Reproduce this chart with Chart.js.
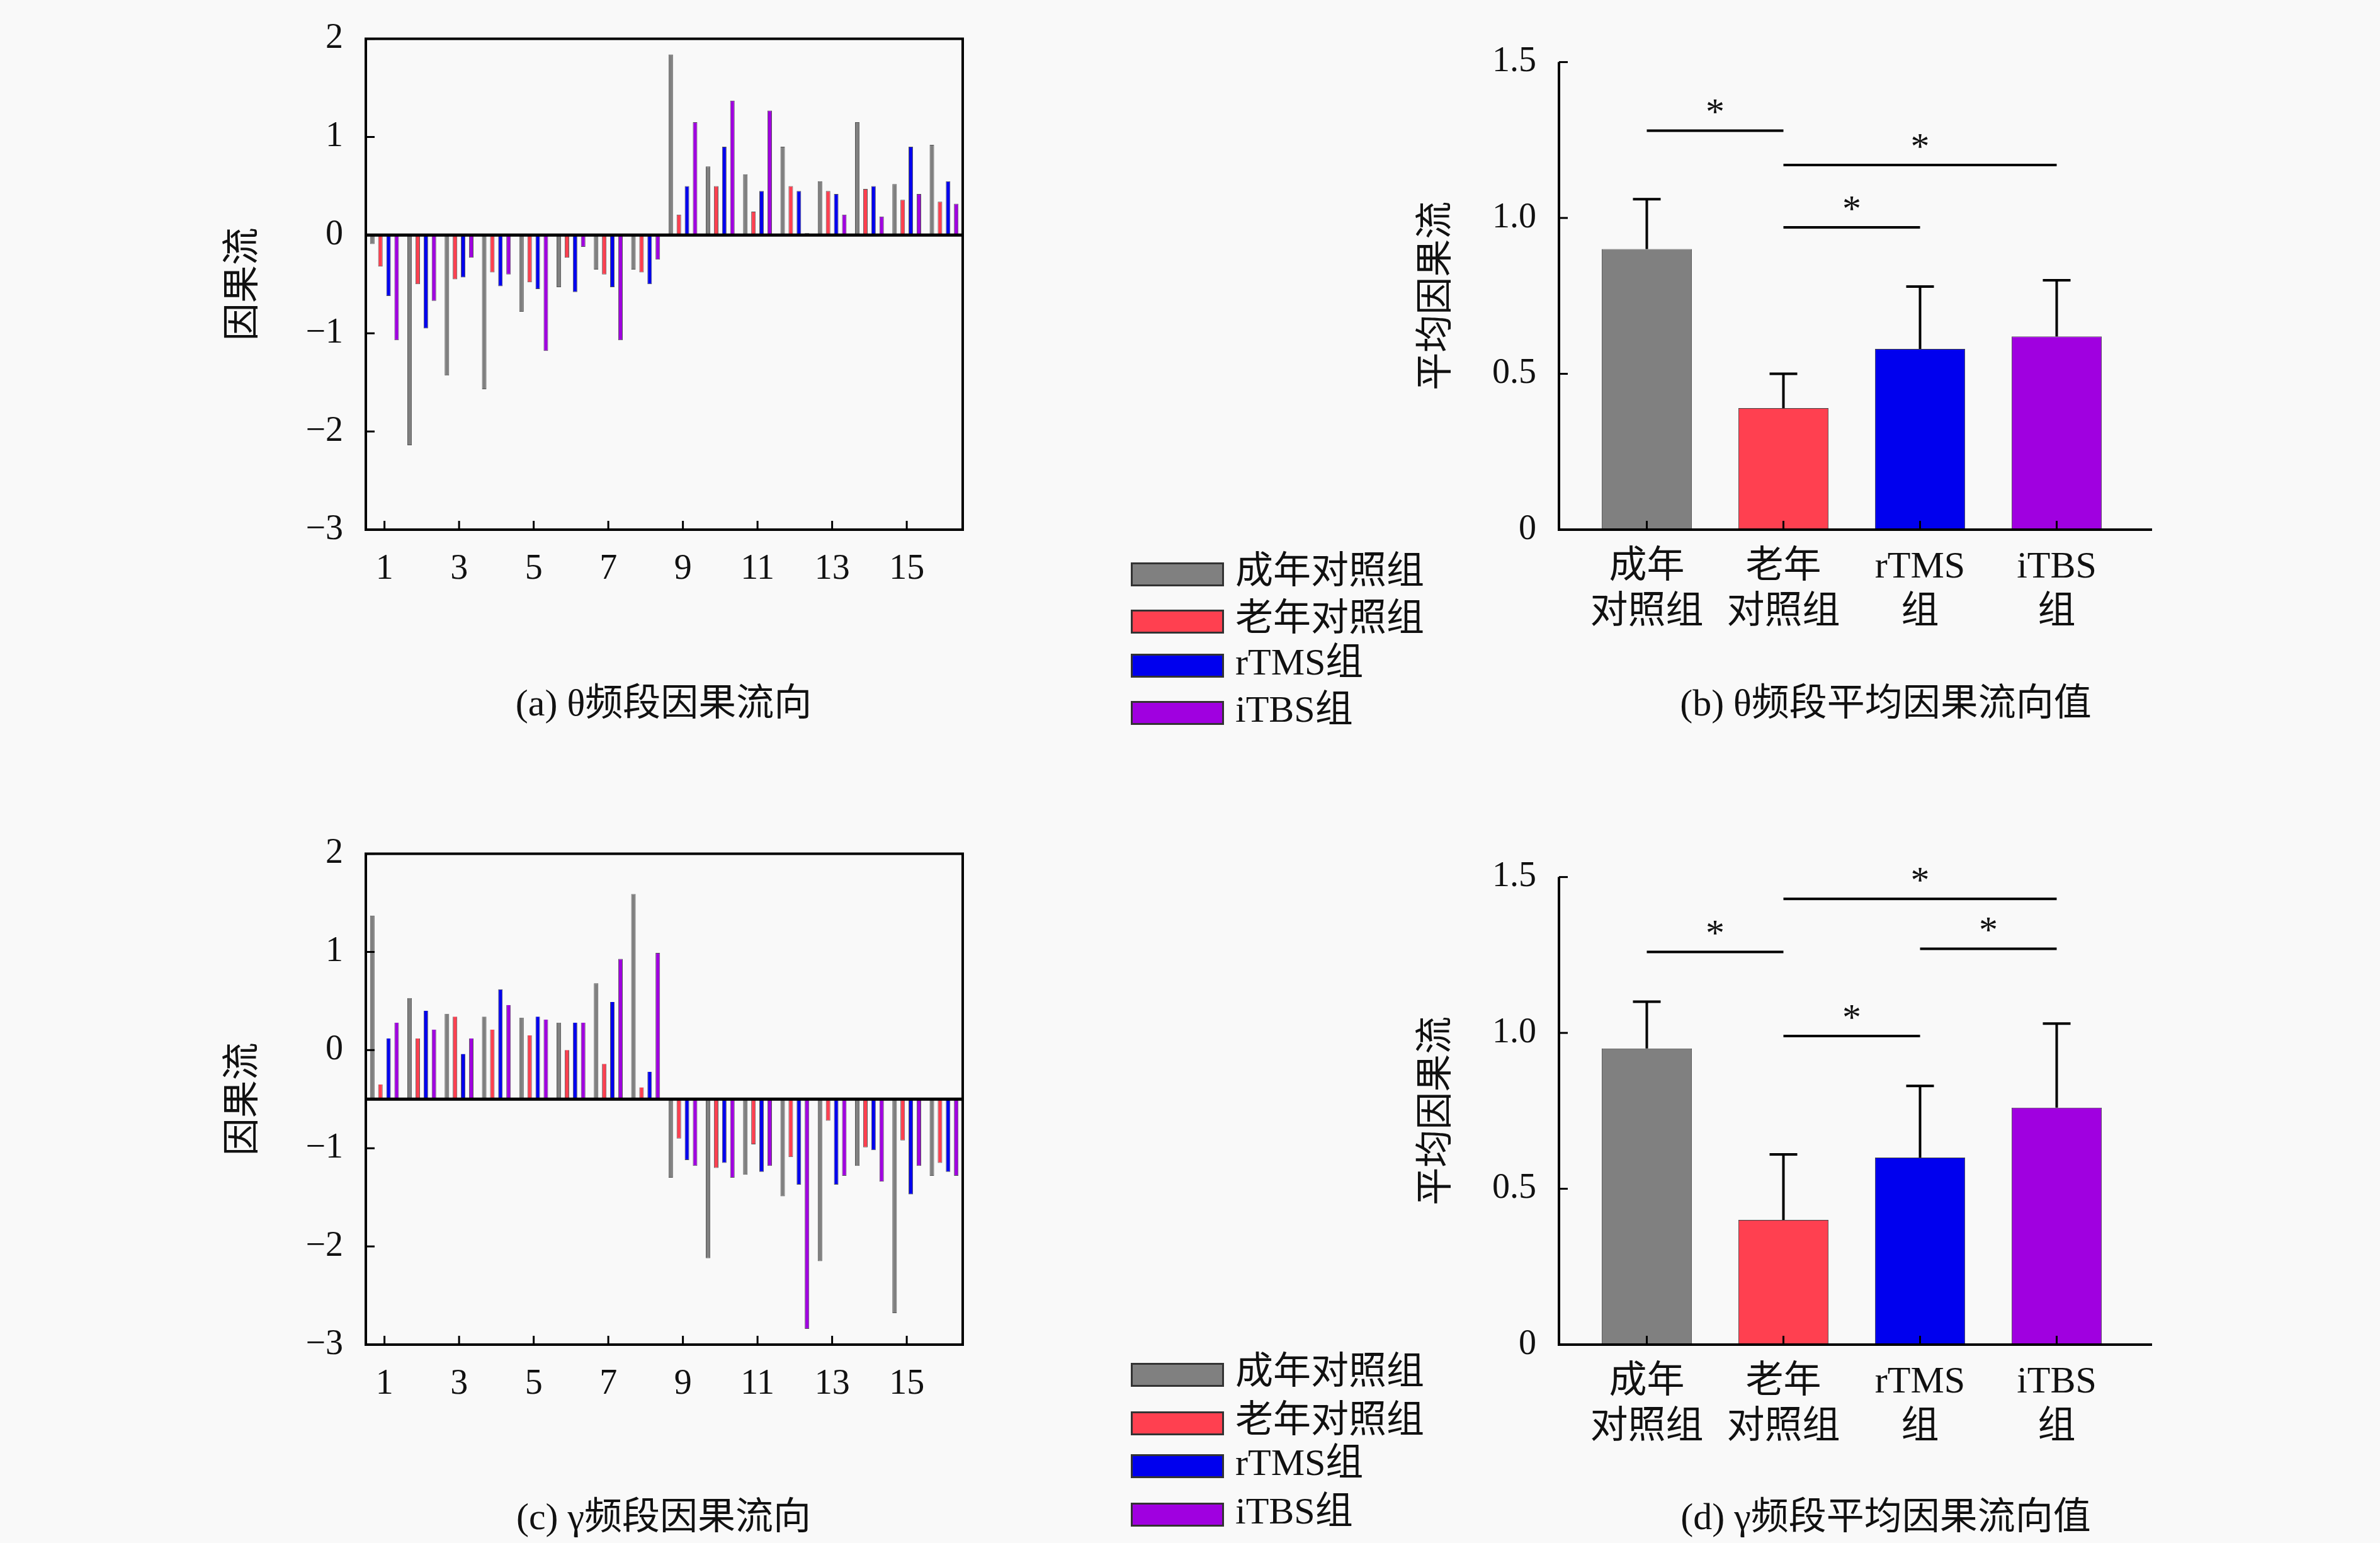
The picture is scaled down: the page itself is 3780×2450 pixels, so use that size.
<!DOCTYPE html>
<html><head><meta charset="utf-8">
<script src="https://cdn.jsdelivr.net/npm/chart.js@4.4.0/dist/chart.umd.min.js"></script>
<style>
body{margin:0;background:#f9f9f9;width:3780px;height:2450px;position:relative;overflow:hidden;font-family:"Liberation Serif","Noto Sans CJK SC",serif;color:#111}
canvas{position:absolute}
.cap{position:absolute;font-size:60px;transform:translateX(-50%);white-space:nowrap}
.leg{position:absolute;font-size:60px;line-height:60px;white-space:nowrap}
.leg span{display:inline-block;width:148px;height:38px;border:3px solid #333;vertical-align:middle;margin-right:18px;box-sizing:border-box}
</style></head><body>
<canvas id="ca"></canvas><canvas id="cb"></canvas><canvas id="cc"></canvas><canvas id="cd"></canvas>
<div class="cap" style="left:1054px;top:1066px">(a) θ频段因果流向</div>
<div class="cap" style="left:2995px;top:1066px">(b) θ频段平均因果流向值</div>
<div class="cap" style="left:1054px;top:2358px">(c) γ频段因果流向</div>
<div class="cap" style="left:2995px;top:2358px">(d) γ频段平均因果流向值</div>
<div id="lg1"></div><div id="lg2"></div>
<script>
const groups = ["成年对照组", "老年对照组", "rTMS组", "iTBS组"];
const colors = ["#808080", "#ff4050", "#0000ee", "#a000e0"];
const channels = Array.from({length: 16}, (_, i) => String(i + 1));

const thetaAdult = [-0.09,-2.14,-1.43,-1.57,-0.78,-0.53,-0.35,-0.35,1.84,0.70,0.62,0.90,0.55,1.15,0.52,0.92];
const thetaOld   = [-0.32,-0.50,-0.45,-0.38,-0.48,-0.23,-0.40,-0.38,0.21,0.50,0.24,0.50,0.45,0.47,0.36,0.34];
const thetaRtms  = [-0.62,-0.95,-0.43,-0.52,-0.55,-0.58,-0.53,-0.50,0.50,0.90,0.45,0.45,0.42,0.50,0.90,0.55];
const thetaItbs  = [-1.07,-0.67,-0.23,-0.40,-1.18,-0.12,-1.07,-0.25,1.15,1.37,1.27,0.02,0.21,0.19,0.42,0.32];

const gammaAdult = [1.37,0.53,0.37,0.34,0.33,0.28,0.68,1.59,-1.30,-2.12,-1.27,-1.49,-2.15,-1.18,-2.68,-1.28];
const gammaOld   = [-0.35,0.12,0.34,0.21,0.15,0.00,-0.14,-0.38,-0.90,-1.20,-0.96,-1.09,-0.72,-0.99,-0.92,-1.15];
const gammaRtms  = [0.12,0.40,-0.04,0.62,0.34,0.28,0.49,-0.22,-1.12,-1.15,-1.24,-1.37,-1.37,-1.02,-1.47,-1.24];
const gammaItbs  = [0.28,0.21,0.12,0.46,0.31,0.28,0.93,0.99,-1.18,-1.30,-1.18,-2.84,-1.28,-1.34,-1.18,-1.28];
const gammaBase = -0.5;

const barLabels = [["成年","对照组"], ["老年","对照组"], ["rTMS","组"], ["iTBS","组"]];
const thetaMean = [0.90, 0.39, 0.58, 0.62];
const thetaErr  = [0.16, 0.11, 0.20, 0.18];
const gammaMean = [0.95, 0.40, 0.60, 0.76];
const gammaErr  = [0.15, 0.21, 0.23, 0.27];
// [from, to, height]
const thetaSig = [[0,1,1.28],[1,3,1.17],[1,2,0.97]];
const gammaSig = [[1,3,1.43],[0,1,1.26],[2,3,1.27],[1,2,0.99]];

Chart.defaults.font.family = '"Liberation Serif","Noto Sans CJK SC",serif';
Chart.defaults.color = "#111";
Chart.defaults.animation = false;
Chart.defaults.devicePixelRatio = 1;

function place(id, left, top, w, h) {
  const c = document.getElementById(id);
  c.width = w; c.height = h;
  c.style.left = left + "px"; c.style.top = top + "px";
  return c;
}

const framePlugin = {
  id: "frame",
  afterDraw(chart, args, o) {
    const {ctx, chartArea: a, scales} = chart;
    const ext = o.ext || [0, 0];
    const L = a.left - ext[0], R = a.right + ext[1];
    ctx.save();
    ctx.strokeStyle = "#000";
    ctx.lineWidth = 4;
    if (o.box) ctx.strokeRect(L, a.top, R - L, a.bottom - a.top);
    else {
      ctx.beginPath();
      ctx.moveTo(L, a.top); ctx.lineTo(L, a.bottom); ctx.lineTo(R, a.bottom);
      ctx.stroke();
    }
    if (o.baseline !== undefined) {
      const y = scales.y.getPixelForValue(o.baseline);
      ctx.lineWidth = 5;
      ctx.beginPath(); ctx.moveTo(L, y); ctx.lineTo(R, y); ctx.stroke();
    }
    ctx.lineWidth = 3;
    scales.y.ticks.forEach(t => {
      const y = scales.y.getPixelForValue(t.value);
      ctx.beginPath(); ctx.moveTo(L, y); ctx.lineTo(L + 14, y); ctx.stroke();
    });
    scales.x.ticks.forEach((t, i) => {
      if (o.oddTicks && i % 2) return;
      const x = scales.x.getPixelForValue(i);
      ctx.beginPath(); ctx.moveTo(x, a.bottom); ctx.lineTo(x, a.bottom - 14); ctx.stroke();
    });
    if (o.err) {
      const ds = chart.getDatasetMeta(0);
      ctx.lineWidth = 4;
      o.err.forEach((e, i) => {
        const x = ds.data[i].x;
        const y0 = scales.y.getPixelForValue(o.mean[i]);
        const y1 = scales.y.getPixelForValue(o.mean[i] + e);
        ctx.beginPath(); ctx.moveTo(x, y0); ctx.lineTo(x, y1);
        ctx.moveTo(x - 22, y1); ctx.lineTo(x + 22, y1); ctx.stroke();
      });
    }
    if (o.sig) {
      ctx.lineWidth = 4;
      ctx.font = "60px 'Liberation Serif'";
      ctx.textAlign = "center"; ctx.textBaseline = "bottom"; ctx.fillStyle = "#111";
      o.sig.forEach(([f, t, h]) => {
        const x0 = scales.x.getPixelForValue(f), x1 = scales.x.getPixelForValue(t);
        const y = scales.y.getPixelForValue(h);
        ctx.beginPath(); ctx.moveTo(x0, y); ctx.lineTo(x1, y); ctx.stroke();
        ctx.fillText("*", (x0 + x1) / 2, y + 4);
      });
    }
    ctx.restore();
  }
};

function flowChart(id, top, series, base, title) {
  const c = place(id, 341, top - 39, 1208, 941);
  new Chart(c, {
    type: "bar",
    data: {
      labels: channels,
      datasets: series.map((s, k) => ({
        label: groups[k],
        data: base === 0 ? s : s.map(v => [base, v]),
        backgroundColor: colors[k],
        borderColor: "#555",
        borderWidth: 1,
        categoryPercentage: 0.87,
        barPercentage: 0.55
      }))
    },
    options: {
      responsive: false,
      layout: {padding: {top: 20, right: 20}},
      plugins: {legend: {display: false}, tooltip: {enabled: false},
        frame: {box: true, baseline: base, oddTicks: true}},
      scales: {
        x: {grid: {display: false}, border: {display: false},
          afterFit: s => { s.height = 100; },
          ticks: {font: {size: 56}, padding: 22, autoSkip: false, maxRotation: 0,
            callback: (v, i) => i % 2 === 0 ? channels[i] : ""}},
        y: {min: -3, max: 2, grid: {display: false}, border: {display: false},
          afterFit: s => { s.width = 240; },
          ticks: {stepSize: 1, font: {size: 56}, padding: 28,
            callback: v => v < 0 ? "\u2212" + Math.abs(v) : String(v)},
          title: {display: true, text: title, font: {size: 60, family: "Noto Sans CJK SC"}, padding: {bottom: 20}}}
      }
    },
    plugins: [framePlugin]
  });
}

function meanChart(id, top, mean, err, sig) {
  const c = place(id, 2236, top - 40, 1203, 1035);
  new Chart(c, {
    type: "bar",
    data: {
      labels: barLabels,
      datasets: [{data: mean, backgroundColor: colors, borderColor: "#444", borderWidth: 1,
        categoryPercentage: 1, barPercentage: 0.66}]
    },
    options: {
      responsive: false,
      layout: {padding: {top: 20, right: 64}},
      plugins: {legend: {display: false}, tooltip: {enabled: false},
        frame: {box: false, err, mean, sig, ext: [31, 43]}},
      scales: {
        x: {grid: {display: false}, border: {display: false},
          afterFit: s => { s.height = 200; },
          ticks: {font: {size: 60}, padding: 16, autoSkip: false, maxRotation: 0}},
        y: {min: 0, max: 1.5, grid: {display: false}, border: {display: false},
          afterFit: s => { s.width = 271; },
          ticks: {stepSize: 0.5, font: {size: 56}, padding: 59,
            callback: v => v === 0 ? "0" : v.toFixed(1)},
          title: {display: true, text: "平均因果流", font: {size: 60, family: "Noto Sans CJK SC"}, padding: {bottom: 20}}}
      }
    },
    plugins: [framePlugin]
  });
}

flowChart("ca", 39, [thetaAdult, thetaOld, thetaRtms, thetaItbs], 0, "因果流");
flowChart("cc", 1333, [gammaAdult, gammaOld, gammaRtms, gammaItbs], gammaBase, "因果流");
meanChart("cb", 46, thetaMean, thetaErr, thetaSig);
meanChart("cd", 1340, gammaMean, gammaErr, gammaSig);

function legend(id, tops) {
  const el = document.getElementById(id);
  groups.forEach((g, k) => {
    const d = document.createElement("div");
    d.className = "leg";
    d.style.left = "1796px"; d.style.top = (tops[k] - 30) + "px";
    d.innerHTML = '<span style="background:' + colors[k] + '"></span>' + g;
    el.appendChild(d);
  });
}
legend("lg1", [906, 981, 1051, 1126]);
legend("lg2", [2177, 2254, 2322, 2399]);
</script>
</body></html>
